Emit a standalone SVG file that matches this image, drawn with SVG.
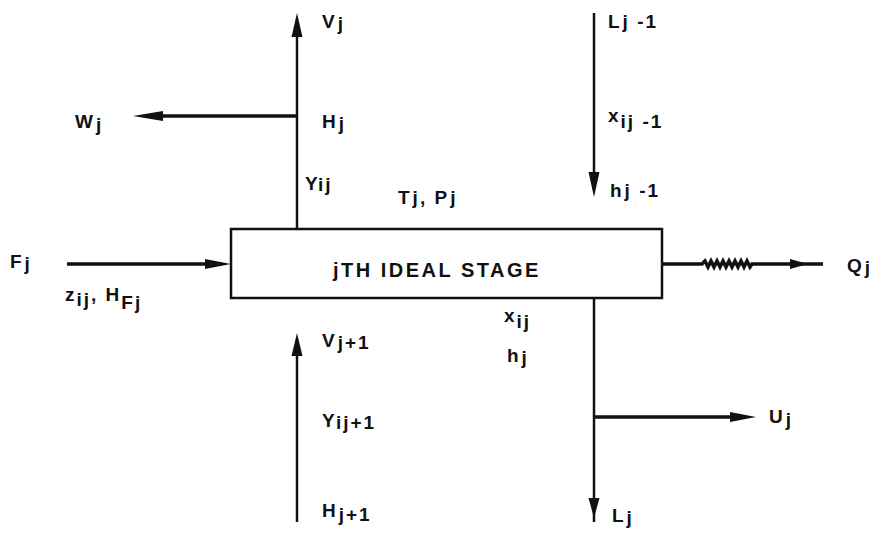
<svg xmlns="http://www.w3.org/2000/svg" width="882" height="533" viewBox="0 0 882 533">
<style>
.bg{fill:#ffffff}
.ln{stroke:#111;stroke-width:2.5;fill:none}
.thk{stroke:#111;stroke-width:3.5;fill:none}
.ah{fill:#111;stroke:none}
.box{fill:#ffffff;stroke:#111;stroke-width:2.5}
text{font-family:"Liberation Sans","DejaVu Sans",sans-serif;font-weight:bold;font-size:19px;fill:#111;letter-spacing:2px}
.big{font-size:20px;letter-spacing:2.5px}
</style>
<rect class="bg" x="0" y="0" width="882" height="533"/>
<g id="connectors">
  <!-- upper left vapour line V_j -->
  <line class="ln" x1="297" y1="30" x2="297" y2="229"/>
  <polygon class="ah" points="297,13 291.5,37 302.5,37"/>
  <!-- W_j side draw -->
  <line class="thk" x1="297" y1="116" x2="150" y2="116"/>
  <polygon class="ah" points="133,116 163,111 163,121"/>
  <!-- upper right liquid L_j-1 -->
  <line class="ln" x1="594" y1="13" x2="594" y2="190"/>
  <polygon class="ah" points="594,197 588.5,172 599.5,172"/>
  <!-- feed F_j -->
  <line class="thk" x1="67" y1="264" x2="215" y2="264"/>
  <polygon class="ah" points="231,264 205,259 205,269"/>
  <!-- heat Q_j -->
  <path class="thk" d="M662 264 H702 l3 -3 l3 6 l3 -6 l3 6 l3 -6 l3 6 l3 -6 l3 6 l3 -6 l3 6 l3 -6 l3 6 l3 -6 l3 6 l3 -6 l3 6 l2 -3 H823"/>
  <polygon class="ah" points="808,264 790,259 790,269"/>
  <!-- lower left vapour V_j+1 -->
  <line class="ln" x1="297" y1="350" x2="297" y2="522"/>
  <polygon class="ah" points="297,333 291.5,356 302.5,356"/>
  <!-- lower right liquid L_j -->
  <line class="ln" x1="594" y1="298" x2="594" y2="522"/>
  <polygon class="ah" points="594,518 588.5,498 599.5,498"/>
  <!-- U_j side draw -->
  <line class="thk" x1="594" y1="417" x2="740" y2="417"/>
  <polygon class="ah" points="756,417 730,412 730,422"/>
</g>
<g id="stage">
  <rect class="box" x="231" y="229" width="431" height="69"/>
  <text class="big" x="333" y="277">jTH IDEAL STAGE</text>
</g>
<g id="labels-top">
  <text x="322" y="28">V<tspan dx="1" dy="2">j</tspan></text>
  <text x="322" y="128">H<tspan dx="1" dy="2">j</tspan></text>
  <text x="75" y="128">W<tspan dx="1" dy="3">j</tspan></text>
  <text x="305" y="190">Y<tspan dx="-1" dy="1">ij</tspan></text>
  <text x="398" y="204">T<tspan dx="1">j</tspan>, P<tspan dx="1">j</tspan></text>
  <text x="608" y="28">L<tspan dx="1">j -1</tspan></text>
  <text x="608" y="122">x<tspan dy="6">ij -1</tspan></text>
  <text x="610" y="197">h<tspan dx="1">j -1</tspan></text>
</g>
<g id="labels-feed">
  <text x="10" y="268">F<tspan dx="1" dy="2">j</tspan></text>
  <text x="65" y="301">z<tspan dy="5">ij</tspan><tspan dy="-5">, H</tspan><tspan dy="8">Fj</tspan></text>
  <text x="847" y="272">Q<tspan dx="1" dy="2">j</tspan></text>
</g>
<g id="labels-bottom">
  <text x="504" y="322">x<tspan dy="6">ij</tspan></text>
  <text x="507" y="362">h<tspan dx="1" dy="2">j</tspan></text>
  <text x="322" y="347">V<tspan dx="1" dy="2">j+1</tspan></text>
  <text x="322" y="427">Y<tspan dy="2">ij+1</tspan></text>
  <text x="322" y="517">H<tspan dx="1" dy="4">j+1</tspan></text>
  <text x="769" y="423">U<tspan dx="1" dy="3">j</tspan></text>
  <text x="612" y="522">L<tspan dx="1" dy="2">j</tspan></text>
</g>
</svg>
